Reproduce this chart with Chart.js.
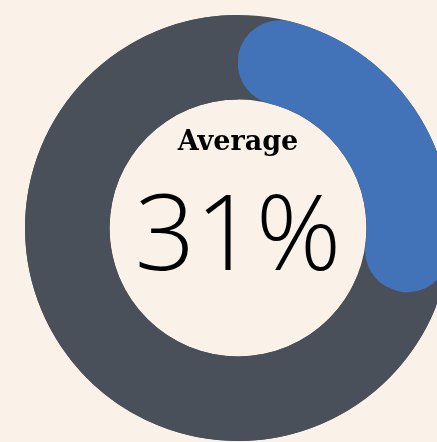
<!DOCTYPE html>
<html>
<head>
<meta charset="utf-8">
<style>
  html, body { margin: 0; padding: 0; background: #faf2e8; overflow: hidden; width: 437px; height: 442px; }
  #wrap { position: absolute; left: 0; top: 0; width: 476px; height: 456px; }
</style>
<script src="https://cdn.jsdelivr.net/npm/chart.js"></script>
</head>
<body>
<div id="wrap"><canvas id="gauge"></canvas></div>
<script>
// данные
const categories = ['Average', 'Remaining'];
const values = [31, 69];
const centerTitle = 'Average';
const centerValue = '31%';

const trackColor = '#4a5059';
const barColor = '#4272b8';

// серое кольцо под дугой
const trackPlugin = {
  id: 'track',
  beforeDatasetsDraw(chart) {
    const arc = chart.getDatasetMeta(0).data[0];
    if (!arc) return;
    const { x, y, innerRadius, outerRadius } = arc.getProps(['x', 'y', 'innerRadius', 'outerRadius'], true);
    const ctx = chart.ctx;
    ctx.save();
    ctx.beginPath();
    ctx.arc(x, y, outerRadius, 0, Math.PI * 2);
    ctx.arc(x, y, innerRadius, 0, Math.PI * 2, true);
    ctx.fillStyle = trackColor;
    ctx.fill('evenodd');
    ctx.restore();
  }
};

// текст в центре
const centerText = {
  id: 'centerText',
  afterDraw(chart) {
    const arc = chart.getDatasetMeta(0).data[0];
    if (!arc) return;
    const { x, y } = arc.getProps(['x', 'y'], true);
    const ctx = chart.ctx;
    ctx.save();
    ctx.fillStyle = '#000';
    ctx.textAlign = 'center';
    ctx.textBaseline = 'alphabetic';
    ctx.font = 'bold 27px "DejaVu Serif"';
    ctx.fillText(centerTitle, x, y - 78);
    ctx.font = '300 106px "Open Sans"';
    ctx.fillText(centerValue, x, y + 42);
    ctx.restore();
  }
};

new Chart(document.getElementById('gauge'), {
  type: 'doughnut',
  data: {
    labels: categories,
    datasets: [{
      data: values,
      backgroundColor: [barColor, trackColor],
      borderWidth: 0,
      borderRadius: [60, 0]
    }]
  },
  options: {
    responsive: true,
    maintainAspectRatio: false,
    animation: false,
    cutout: '60.3%',
    layout: { padding: 15 },
    events: [],
    plugins: {
      legend: { display: false },
      tooltip: { enabled: false }
    }
  },
  plugins: [trackPlugin, centerText]
});
</script>
</body>
</html>
